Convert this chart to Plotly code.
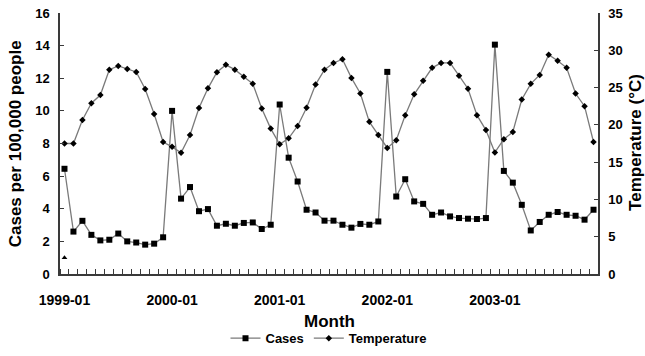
import plotly.graph_objects as go

months_idx = list(range(60))
year_labels = ["1999-01", "2000-01", "2001-01", "2002-01", "2003-01"]
year_pos = [0, 12, 24, 36, 48]

cases = [6.45, 2.6, 3.26, 2.4, 2.06, 2.1, 2.48, 2.0, 1.93, 1.8, 1.86, 2.25,
         10.0, 4.62, 5.33, 3.85, 3.98, 2.96, 3.08, 2.96, 3.13, 3.16, 2.76, 3.02,
         10.39, 7.13, 5.67, 3.94, 3.77, 3.27, 3.27, 3.02, 2.84, 3.07, 3.02, 3.22,
         12.39, 4.75, 5.81, 4.45, 4.3, 3.63, 3.77, 3.53, 3.43, 3.39, 3.37, 3.43,
         14.06, 6.32, 5.6, 4.24, 2.67, 3.19, 3.63, 3.8, 3.63, 3.57, 3.33, 3.94]

temperature = [17.5, 17.5, 20.65, 22.9, 24.0, 27.4, 27.9, 27.5, 27.1, 24.8, 21.45, 17.7,
               17.05, 16.25, 18.65, 22.25, 24.9, 27.07, 28.05, 27.4, 26.45, 25.5, 22.2, 19.5,
               17.4, 18.2, 19.85, 22.3, 25.4, 27.4, 28.3, 28.8, 26.3, 24.2, 20.4, 18.65,
               16.9, 17.95, 21.3, 24.1, 25.9, 27.65, 28.3, 28.3, 26.6, 24.85, 21.3, 19.3,
               16.3, 18.07, 19.05, 23.4, 25.5, 26.7, 29.4, 28.6, 27.65, 24.2, 22.5, 17.7]

stray_x = [0]
stray_y = [1.0]

FONT = "Liberation Sans, Arial, sans-serif"
LINE = "#7a7a7a"
AX = "#3a3a3a"

fig = go.Figure()
fig.add_trace(go.Scatter(x=months_idx, y=cases, name="Cases", mode="lines+markers",
                         line=dict(color=LINE, width=1.3),
                         marker=dict(symbol="square", size=6, color="black")))
fig.add_trace(go.Scatter(x=months_idx, y=temperature, name="Temperature", mode="lines+markers",
                         yaxis="y2", line=dict(color=LINE, width=1.3),
                         marker=dict(symbol="diamond", size=5, color="black")))
fig.add_trace(go.Scatter(x=stray_x, y=stray_y, mode="markers", showlegend=False,
                         marker=dict(symbol="triangle-up", size=5, color="black")))

fig.update_layout(
    width=645, height=356,
    margin=dict(l=60, r=47, t=12.5, b=81.5, autoexpand=False),
    paper_bgcolor="white", plot_bgcolor="white",
    font=dict(family=FONT, color="black"),
    showlegend=True,
    legend=dict(orientation="h", x=0.5, xanchor="center", y=-0.246, yanchor="middle",
                font=dict(size=13, family=FONT, weight="bold"), itemwidth=30,
                tracegroupgap=0, bgcolor="rgba(0,0,0,0)"),
    xaxis=dict(range=[-0.5, 59.5], tickmode="array", tickvals=year_pos, ticktext=year_labels,
               ticks="", showgrid=False, zeroline=False, showline=True, linecolor=AX, linewidth=1.5,
               tickfont=dict(size=14, family=FONT, weight="bold"), ticklabelstandoff=12,
               minor=dict(tickmode="linear", tick0=0.5, dtick=1, ticks="inside", ticklen=5,
                          tickcolor=AX, tickwidth=1, showgrid=False)),
    yaxis=dict(range=[0, 16], dtick=2, ticks="inside", ticklen=4, tickcolor=AX,
               showgrid=False, zeroline=False, showline=True, linecolor=AX, linewidth=1.5,
               tickfont=dict(size=13, family=FONT, weight="bold"), ticklabelstandoff=6),
    yaxis2=dict(range=[0, 35], dtick=5, ticks="inside", ticklen=4, tickcolor=AX,
                overlaying="y", side="right",
                showgrid=False, zeroline=False, showline=True, linecolor=AX, linewidth=1.5,
                tickfont=dict(size=13, family=FONT, weight="bold"), ticklabelstandoff=6),
    annotations=[
        dict(text="Cases per 100,000 people", xref="paper", yref="paper", x=-0.0836, y=0.497,
             xanchor="center", yanchor="middle", textangle=-90, showarrow=False,
             font=dict(size=17, family=FONT, weight="bold")),
        dict(text="Temperature (°C)", xref="paper", yref="paper", x=1.0706, y=0.506,
             xanchor="center", yanchor="middle", textangle=-90, showarrow=False,
             font=dict(size=17, family=FONT, weight="bold")),
        dict(text="Month", xref="paper", yref="paper", x=0.5, y=-0.181,
             xanchor="center", yanchor="middle", showarrow=False,
             font=dict(size=17, family=FONT, weight="bold")),
    ],
)

fig.write_html("out.html")
